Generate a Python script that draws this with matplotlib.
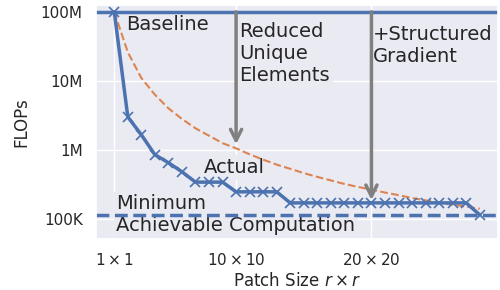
import matplotlib
matplotlib.use("Agg")
import matplotlib.pyplot as plt
import seaborn as sns

# patch size r (r x r patches)
patch = list(range(1, 29))

# FLOPs
actual = [1.0e8, 3.0e6, 1.65e6, 8.5e5, 6.5e5, 4.8e5,
          3.4e5, 3.4e5, 3.4e5,
          2.46e5, 2.46e5, 2.46e5, 2.46e5,
          1.7e5, 1.7e5, 1.7e5, 1.7e5, 1.7e5, 1.7e5, 1.7e5,
          1.7e5, 1.7e5, 1.7e5, 1.7e5, 1.7e5, 1.7e5, 1.7e5,
          1.14e5]
ideal = [1.0e8, 2.6e7, 1.1e7, 6.3e6, 4.0e6, 2.8e6, 2.05e6, 1.6e6, 1.25e6,
         1.05e6, 8.6e5, 7.2e5, 6.1e5, 5.3e5, 4.6e5, 4.05e5, 3.6e5, 3.2e5,
         2.9e5, 2.65e5, 2.4e5, 2.2e5, 2.0e5, 1.85e5, 1.7e5, 1.6e5, 1.5e5,
         1.4e5]
baseline = 1.0e8
minimum = 1.14e5

xticks = [1, 10, 20]
xticklabels = [r"$1\times1$", r"$10\times10$", r"$20\times20$"]
yticks = [1e5, 1e6, 1e7, 1e8]
yticklabels = ["100K", "1M", "10M", "100M"]

sns.set_theme(style="darkgrid")
plt.rcParams['font.family'] = ['DejaVu Sans']

fig = plt.figure(figsize=(5, 2.9), dpi=100)
ax = fig.add_axes([0.192, 0.176, 0.804, 0.807])

blue = sns.color_palette()[0]
orange = sns.color_palette()[1]
bg = ax.get_facecolor()

ax.axhline(baseline, color=blue, lw=2.5, zorder=2)
ax.axhline(minimum, color=blue, lw=2.5, ls="--", zorder=2)
ax.plot(patch, ideal, color=orange, lw=1.5, ls="--", zorder=2)
ax.plot(patch, actual, color=blue, lw=2.5, marker="x", ms=7, mew=1.2, zorder=3)

ax.set_yscale("log")
ax.set_ylim(5.1e4, 1.26e8)
ax.set_yticks(yticks)
ax.set_yticklabels(yticklabels)
ax.minorticks_off()
ax.set_xticks(xticks)
ax.set_xticklabels(xticklabels)

# gray arrows from the baseline
ax.annotate("", xy=(10, 1.2e6), xytext=(10, baseline),
            arrowprops=dict(arrowstyle="->", color="gray", lw=2.5,
                            mutation_scale=20, shrinkA=0, shrinkB=0), zorder=4)
ax.annotate("", xy=(20, 1.87e5), xytext=(20, baseline),
            arrowprops=dict(arrowstyle="->", color="gray", lw=2.5,
                            mutation_scale=20, shrinkA=0, shrinkB=0), zorder=4)

box = dict(facecolor=bg, edgecolor="none", pad=2)
ax.text(1.9, 6.6e7, "Baseline", fontsize=14, va="center", ha="left",
        bbox=box, zorder=1)
ax.text(10.25, 2.5e7, "Reduced\nUnique\nElements", fontsize=14, va="center",
        ha="left", bbox=box, zorder=1)
ax.text(20.1, 3.3e7, "+Structured\nGradient", fontsize=14, va="center",
        ha="left", bbox=box, zorder=1)
ax.text(7.6, 5.5e5, "Actual", fontsize=14, va="center", ha="left",
        bbox=box, zorder=1)
ax.text(1.15, minimum, "Minimum\nAchievable Computation", fontsize=14,
        va="center", ha="left", bbox=box, zorder=1)

ax.set_xlabel(r"Patch Size $r\times r$", labelpad=2.5)
ax.set_ylabel("FLOPs", labelpad=7.5)

fig.savefig("out.png", dpi=100)
